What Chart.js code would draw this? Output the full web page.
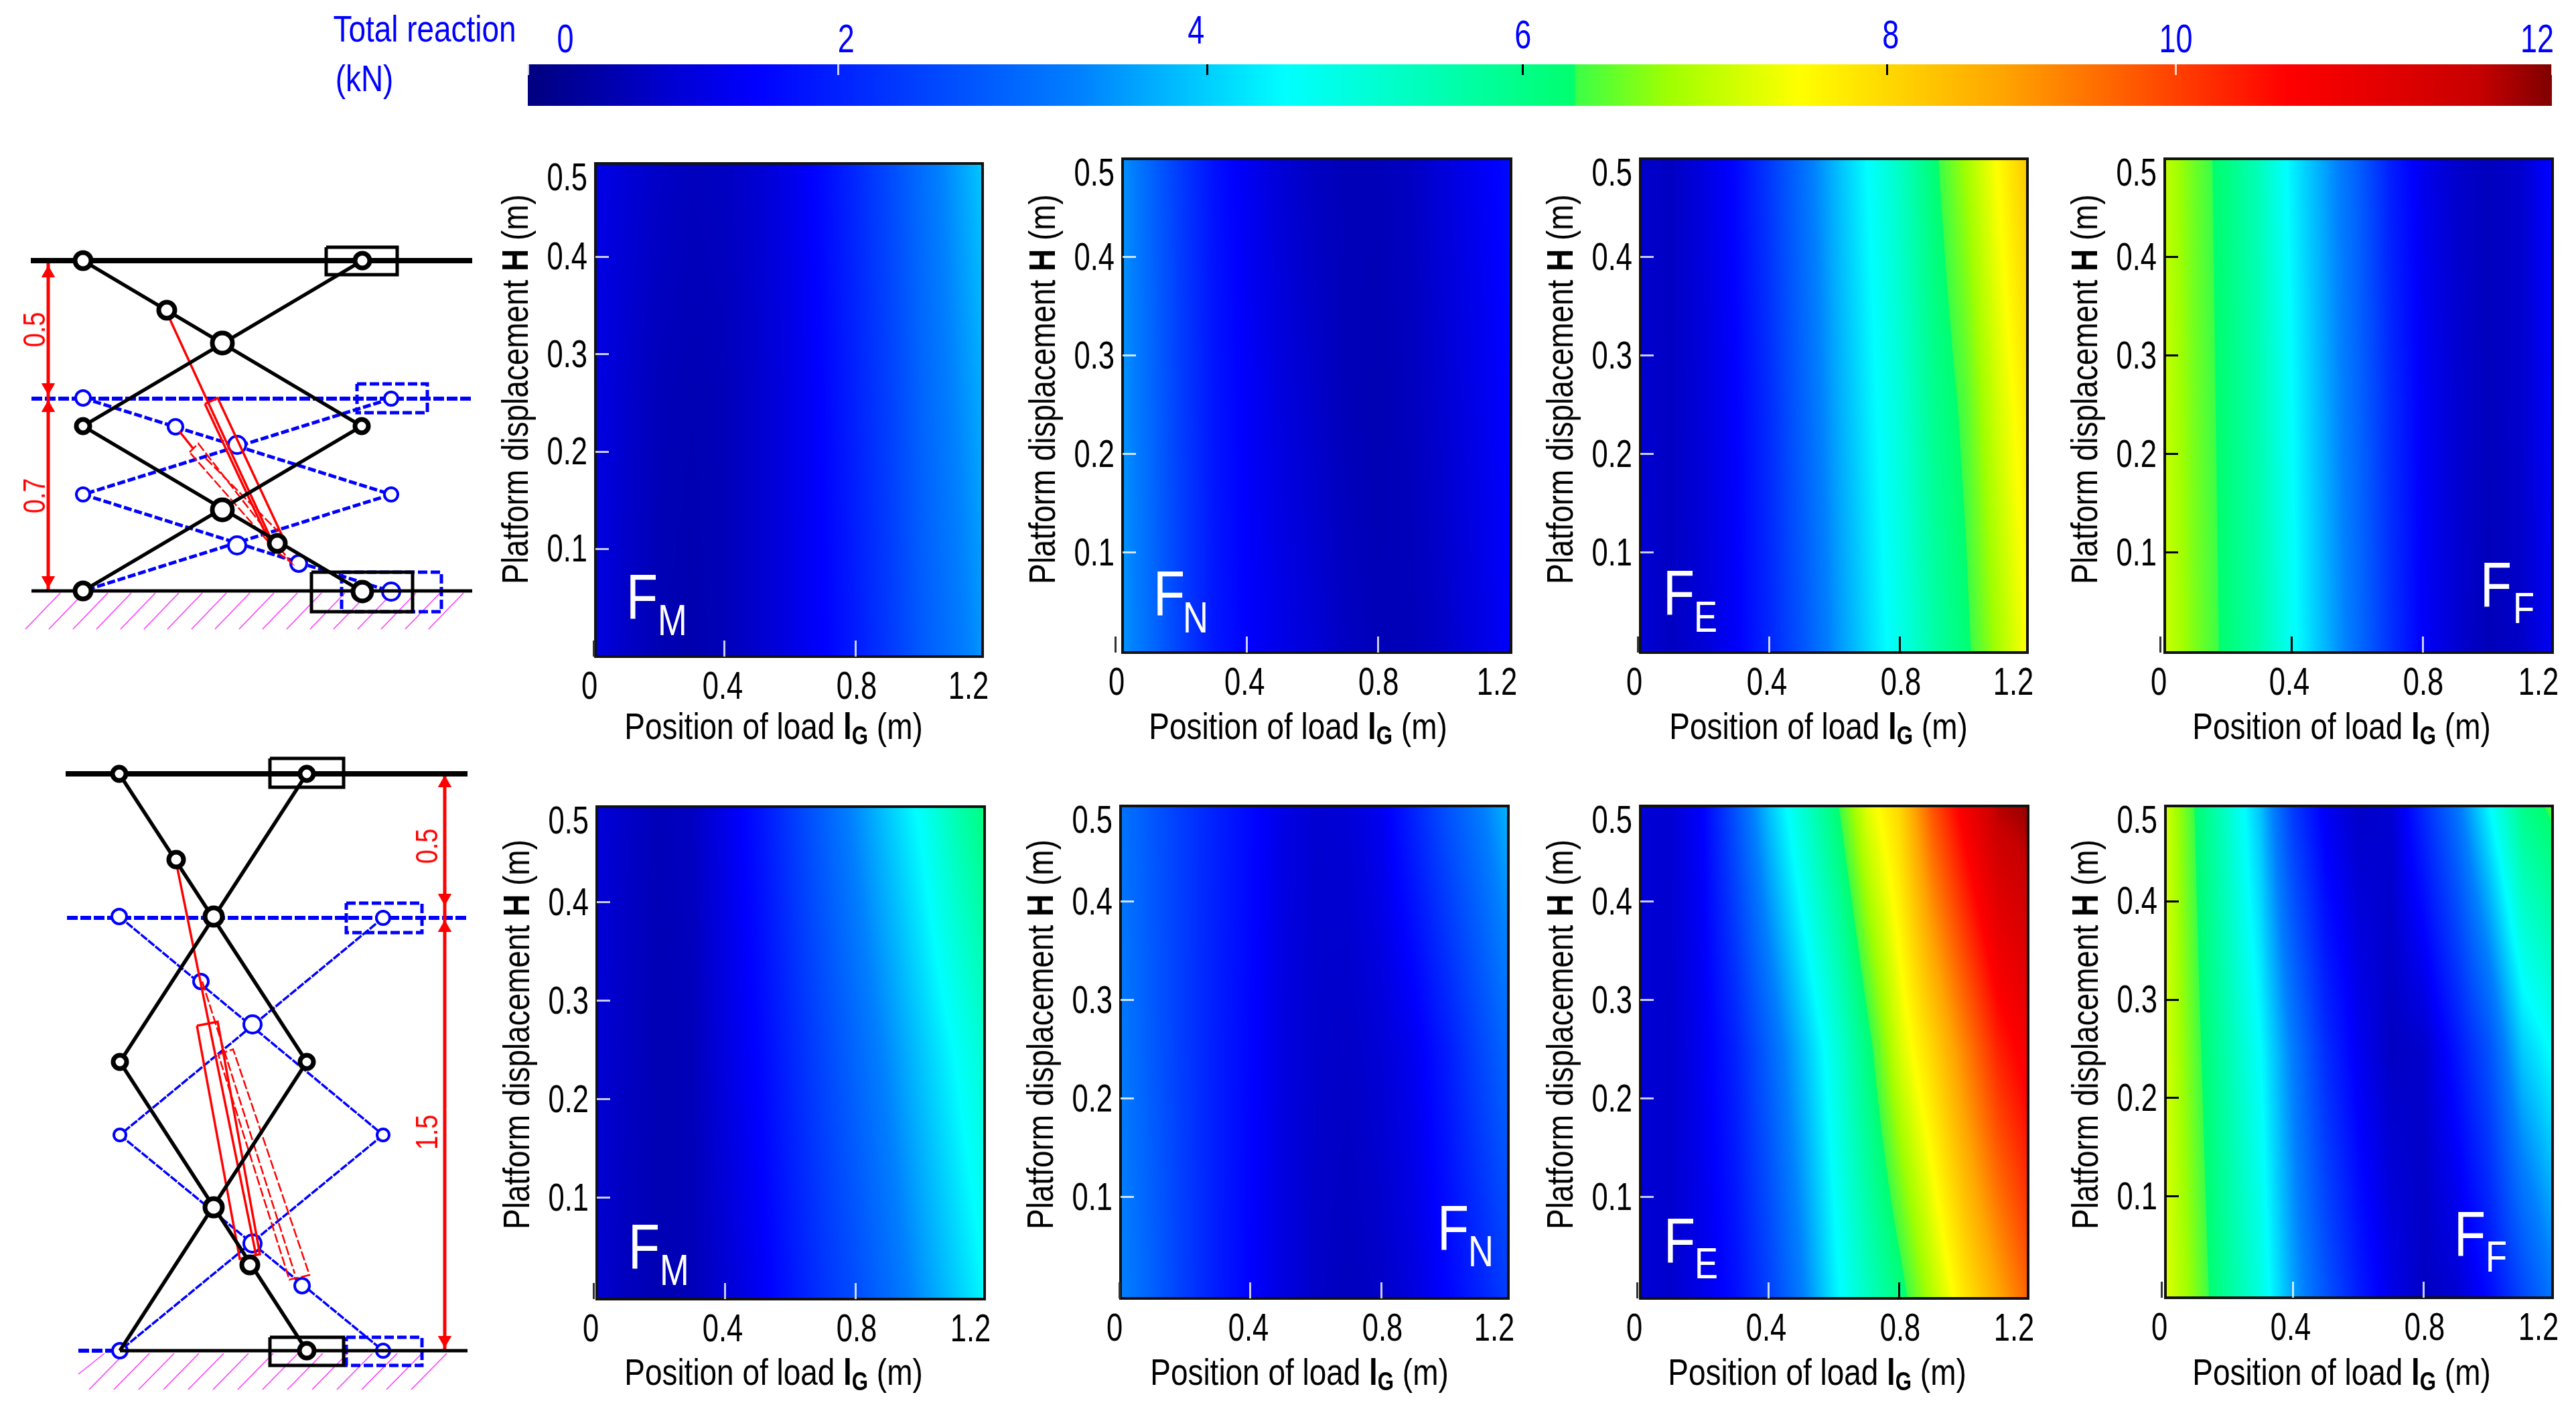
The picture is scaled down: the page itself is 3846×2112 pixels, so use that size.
<!DOCTYPE html>
<html>
<head>
<meta charset="utf-8">
<title>Total reaction maps</title>
<script src="https://cdn.jsdelivr.net/npm/chart.js@4"></script>
<style>
html, body { margin: 0; background: #fff; }
#page { position: relative; width: 3846px; height: 2112px; overflow: hidden; font-family: "Liberation Sans", sans-serif; }
canvas { position: absolute; }
.txt { position: absolute; white-space: nowrap; line-height: 1; transform: translate(-50%, -50%) scaleX(0.82); }
.txt sub { font-size: 68%; line-height: 0; vertical-align: -0.22em; }
.mark { position: absolute; white-space: nowrap; line-height: 0; color: #fff; transform: scaleX(0.82); transform-origin: left center; }
</style>
</head>
<body>
<div id="page"></div>
<script>
// Grid the maps were read on
const loadPos = [0, 0.1, 0.2, 0.3, 0.4, 0.5, 0.6, 0.7, 0.8, 0.9, 1.0, 1.1, 1.2];
const platformH = [0, 0.25, 0.5];
const xTicks = [0, 0.4, 0.8, 1.2];
const yTicks = [0.1, 0.2, 0.3, 0.4, 0.5];

// Total reaction per panel, one row per platformH
const fmUpper = [
    [1.0, 0.75, 0.55, 0.5, 0.6, 0.8, 1.05, 1.35, 1.75, 2.2, 2.7, 3.1, 3.55],
    [1.05, 0.8, 0.6, 0.55, 0.6, 0.8, 1.05, 1.4, 1.85, 2.3, 2.85, 3.3, 3.75],
    [1.1, 0.9, 0.75, 0.65, 0.7, 0.85, 1.1, 1.5, 1.95, 2.45, 3.0, 3.5, 4.05]
];
const fnUpper = [
    [3.6, 3.0, 2.3, 1.7, 1.35, 1.1, 0.9, 0.7, 0.6, 0.6, 0.75, 1.0, 1.3],
    [3.6, 2.95, 2.25, 1.65, 1.3, 1.0, 0.8, 0.6, 0.55, 0.65, 0.85, 1.1, 1.4],
    [3.6, 2.9, 2.2, 1.6, 1.2, 0.9, 0.7, 0.6, 0.6, 0.7, 0.95, 1.2, 1.5]
];
const feUpper = [
    [0.9, 0.7, 0.9, 1.3, 1.9, 2.6, 3.4, 4.1, 4.75, 5.5, 6.1, 6.85, 7.65],
    [0.85, 0.7, 0.95, 1.35, 2.0, 2.8, 3.6, 4.3, 4.95, 5.8, 6.35, 7.2, 7.95],
    [0.8, 0.7, 1.0, 1.45, 2.2, 3.0, 3.8, 4.5, 5.2, 6.1, 6.8, 7.6, 8.4]
];
const ffUpper = [
    [7.2, 6.6, 6.1, 5.5, 4.6, 3.8, 3.0, 2.1, 1.3, 0.85, 0.6, 0.75, 1.25],
    [7.15, 6.55, 6.05, 5.4, 4.5, 3.7, 2.9, 2.0, 1.25, 0.85, 0.65, 0.8, 1.35],
    [7.1, 6.5, 6.0, 5.3, 4.35, 3.6, 2.8, 1.8, 1.15, 0.8, 0.65, 0.8, 1.5]
];
const fmLower = [
    [0.85, 0.65, 0.55, 0.6, 0.85, 1.2, 1.65, 2.1, 2.5, 2.95, 3.45, 3.95, 4.5],
    [0.9, 0.7, 0.55, 0.6, 1.0, 1.4, 1.9, 2.4, 2.9, 3.4, 3.95, 4.5, 5.1],
    [0.95, 0.75, 0.6, 0.7, 1.1, 1.6, 2.2, 2.8, 3.4, 4.0, 4.6, 5.4, 6.1]
];
const fnLower = [
    [3.3, 2.8, 2.25, 1.75, 1.35, 1.0, 0.75, 0.65, 0.75, 1.0, 1.4, 1.85, 2.35],
    [3.2, 2.7, 2.2, 1.75, 1.4, 1.0, 0.8, 0.75, 0.9, 1.2, 1.75, 2.4, 3.0],
    [3.1, 2.65, 2.2, 1.8, 1.45, 1.05, 0.85, 0.9, 1.2, 1.9, 2.6, 3.2, 3.9]
];
const feLower = [
    [0.9, 0.8, 1.1, 1.55, 2.3, 3.2, 4.3, 5.2, 6.0, 6.95, 7.9, 8.7, 9.5],
    [0.9, 0.8, 1.2, 1.85, 2.8, 3.8, 4.8, 6.0, 7.2, 8.1, 9.1, 10.1, 10.7],
    [0.9, 0.85, 1.35, 2.6, 3.9, 5.0, 6.05, 7.3, 8.1, 9.6, 10.7, 11.7, 11.9]
];
const ffLower = [
    [7.35, 6.6, 5.7, 4.85, 3.6, 2.6, 1.75, 1.1, 0.7, 0.85, 1.5, 2.4, 3.2],
    [7.3, 6.4, 5.45, 4.5, 3.2, 2.0, 1.2, 0.7, 0.8, 1.65, 2.6, 4.0, 4.6],
    [7.3, 6.2, 5.1, 3.9, 2.2, 1.2, 0.75, 0.85, 2.0, 3.1, 4.5, 5.9, 6.4]
];

// Colour bar: stops along the bar, and where its printed ticks really sit
const colorAt = [0, 0.45, 0.9, 1.35, 3.27, 4.49, 6.2, 6.22, 6.77, 7.54, 8.74, 10.43, 11.56, 12];
const colorRgb = [[0, 0, 127], [0, 0, 170], [0, 0, 215], [0, 0, 255], [0, 128, 255], [0, 255, 255], [0, 255, 110], [60, 255, 70], [160, 255, 0], [255, 255, 0], [255, 165, 0], [255, 0, 0], [200, 0, 0], [127, 0, 0]];
const barTickAt = [0, 1.84, 4.03, 5.9, 8.06, 9.77, 12];
const barTickText = ["0", "2", "4", "6", "8", "10", "12"];

// Mechanism sketches, in page pixels: polylines as x,y,x,y...
const blackBars = [
    [124, 389, 540, 636], [541, 389, 124, 636], [124, 636, 541, 883], [540, 636, 124, 882],
    [178, 1155, 458, 1585], [458, 1155, 179, 1585], [179, 1585, 458, 2016], [458, 1585, 179, 2016]
];
const blackBoxes = [
    [487, 369, 593, 369, 593, 410, 487, 410, 487, 369],
    [465, 854, 616, 854, 616, 913, 465, 913, 465, 854],
    [403, 1132, 513, 1132, 513, 1175, 403, 1175, 403, 1132],
    [403, 1996, 513, 1996, 513, 2038, 403, 2038, 403, 1996]
];
const platforms = [[46, 389, 705, 389], [98, 1155, 698, 1155]];
const floors = [[47, 882, 705, 882], [179, 2016, 698, 2016]];
const blueLevels = [[47, 595, 705, 595], [100, 1370, 698, 1370], [117, 2016, 179, 2016]];
const blueBoxes = [
    [533, 573, 638, 573, 638, 616, 533, 616, 533, 573],
    [510, 854, 659, 854, 659, 913, 510, 913, 510, 854],
    [517, 1348, 630, 1348, 630, 1392, 517, 1392, 517, 1348],
    [517, 1996, 630, 1996, 630, 2038, 517, 2038, 517, 1996]
];
const blueBarsThick = [[124, 594, 584, 738], [584, 595, 124, 738], [124, 738, 584, 883], [584, 738, 124, 882]];
const blueBarsThin = [[178, 1368, 572, 1694], [572, 1370, 179, 1694], [179, 1694, 572, 2016], [572, 1694, 179, 2016]];
const redSolid = [
    [252, 473, 403, 801],
    [306, 603, 325, 594, 420, 797, 401, 806, 306, 603],
    [264, 1292, 382, 1872],
    [294, 1531, 325, 1525, 388, 1872, 358, 1879, 294, 1531],
    [268, 644, 288, 669]
];
const redDashed = [
    [283, 675, 296, 662, 434, 839, 415, 825, 283, 675],
    [307, 684, 415, 793],
    [326, 1574, 348, 1566, 462, 1903, 432, 1910, 326, 1574],
    [302, 1465, 440, 1901]
];
const dimensions = [[72, 389, 72, 882], [664, 1155, 664, 2016]];
const arrowsUp = [[72, 408], [72, 609], [664, 1169], [664, 1385]];
const arrowsDown = [[72, 578], [72, 866], [664, 1340], [664, 2000]];
const hatchUpperX = [38, 73, 109, 144, 180, 215, 250, 286, 321, 357, 392, 428, 463, 498, 534, 569, 605, 640];
const hatchLowerX = [133, 170, 207, 244, 281, 318, 355, 392, 429, 466, 503, 540, 577, 614];
// x, y, radius
const blackPins = [
    [124, 389, 12], [541, 389, 11], [249, 463, 12], [332, 512, 15], [124, 636, 10], [540, 636, 10],
    [332, 761, 15], [414, 811, 12], [124, 882, 12], [541, 883, 14],
    [178, 1155, 10], [458, 1155, 10], [263, 1283, 11], [319, 1368, 13], [179, 1585, 10], [458, 1585, 10],
    [319, 1802, 13], [373, 1888, 12], [458, 2016, 11]
];
const bluePins = [
    [124, 594, 11], [262, 637, 11], [354, 664, 13], [124, 738, 10], [584, 738, 10], [354, 814, 13], [446, 841, 12], [584, 595, 10], [584, 883, 13],
    [178, 1368, 11], [300, 1465, 11], [377, 1529, 13], [179, 1694, 9], [572, 1694, 9], [377, 1856, 13], [451, 1919, 11], [572, 1370, 10], [572, 2016, 10], [179, 2016, 11]
];

// Layout; the panels were pasted in by hand, so their axis ranges differ a little
const panels = [
    { grid: fmUpper, sym: "M", left: 889, right: 1467, top: 244, bottom: 980, xMin: 0.006, xMax: 1.186, hMin: -0.0105, hMax: 0.496, fx: 935, fy: 924, sx: 982, sy: 948, tx: 1155, ty: 1084, hy: 581 },
    { grid: fnUpper, sym: "N", left: 1676, right: 2256, top: 237, bottom: 974, xMin: 0.022, xMax: 1.206, hMin: -0.0016, hMax: 0.5, fx: 1722, fy: 919, sx: 1766, sy: 944, tx: 1938, ty: 1084, hy: 581 },
    { grid: feUpper, sym: "E", left: 2449, right: 3027, top: 237, bottom: 974, xMin: 0.008, xMax: 1.188, hMin: -0.0016, hMax: 0.5, fx: 2483, fy: 918, sx: 2529, sy: 943, tx: 2715, ty: 1084, hy: 581 },
    { grid: ffUpper, sym: "F", left: 3232, right: 3811, top: 237, bottom: 974, xMin: 0.014, xMax: 1.196, hMin: -0.0016, hMax: 0.5, fx: 3703, fy: 906, sx: 3752, sy: 930, tx: 3496, ty: 1084, hy: 581 },
    { grid: fmLower, sym: "M", left: 891, right: 1470, top: 1204, bottom: 1939, xMin: 0.01, xMax: 1.192, hMin: -0.003, hMax: 0.497, fx: 938, fy: 1894, sx: 985, sy: 1918, tx: 1155, ty: 2048, hy: 1544 },
    { grid: fnLower, sym: "N", left: 1673, right: 2252, top: 1203, bottom: 1938, xMin: 0.004, xMax: 1.186, hMin: -0.003, hMax: 0.497, fx: 2146, fy: 1866, sx: 2192, sy: 1890, tx: 1940, ty: 2048, hy: 1544 },
    { grid: feLower, sym: "E", left: 2449, right: 3028, top: 1203, bottom: 1938, xMin: 0.01, xMax: 1.192, hMin: -0.003, hMax: 0.497, fx: 2484, fy: 1885, sx: 2530, sy: 1908, tx: 2713, ty: 2048, hy: 1544 },
    { grid: ffLower, sym: "F", left: 3233, right: 3811, top: 1203, bottom: 1937, xMin: 0.012, xMax: 1.192, hMin: -0.003, hMax: 0.497, fx: 3664, fy: 1875, sx: 3711, sy: 1898, tx: 3496, ty: 2048, hy: 1544 }
];
const page = document.getElementById("page");
const SQUEEZE = 0.75;

Chart.defaults.animation = false;
Chart.defaults.layout.autoPadding = false;
Chart.defaults.plugins.legend.display = false;
Chart.defaults.plugins.tooltip.enabled = false;
Chart.defaults.font.family = "'Liberation Sans', sans-serif";

function addCanvas(left, top, w, h) {
    const c = document.createElement("canvas");
    c.width = w;
    c.height = h;
    c.style.left = left + "px";
    c.style.top = top + "px";
    page.appendChild(c);
    const ctx = c.getContext("2d");
    // the original lettering is squeezed sideways, no condensed face is installed
    const fill = ctx.fillText.bind(ctx);
    ctx.fillText = (t, x, y) => {
        ctx.save();
        ctx.scale(SQUEEZE, 1);
        fill(t, x / SQUEEZE, y);
        ctx.restore();
    };
    return ctx;
}

function addText(html, x, y, size, color, rotate) {
    const d = document.createElement("div");
    d.className = "txt";
    d.innerHTML = html;
    d.style.left = x + "px";
    d.style.top = y + "px";
    d.style.fontSize = size + "px";
    d.style.color = color || "#000";
    if (rotate) d.style.transform = "translate(-50%, -50%) rotate(-90deg) scaleX(0.82)";
    page.appendChild(d);
}

function addMark(text, x, baseline, size) {
    const d = document.createElement("div");
    d.className = "mark";
    d.textContent = text;
    d.style.left = x + "px";
    d.style.top = (baseline - 0.3465 * size) + "px";
    d.style.fontSize = size + "px";
    page.appendChild(d);
}

function valueColor(v) {
    let i = 0;
    while (i < colorAt.length - 2 && v > colorAt[i + 1]) i++;
    const t = Math.min(1, Math.max(0, (v - colorAt[i]) / (colorAt[i + 1] - colorAt[i])));
    return colorRgb[i].map((c, k) => Math.round(c + (colorRgb[i + 1][k] - c) * t));
}

// Read a panel's grid at a given load position and platform height
function sampleGrid(grid, x, h) {
    const xi = Math.min(loadPos.length - 2, Math.max(0, Math.floor(x / 0.1)));
    const hi = h < platformH[1] ? 0 : 1;
    const tx = Math.min(1, Math.max(0, (x - loadPos[xi]) / (loadPos[xi + 1] - loadPos[xi])));
    const th = Math.min(1, Math.max(0, (h - platformH[hi]) / (platformH[hi + 1] - platformH[hi])));
    const low = grid[hi][xi] + (grid[hi][xi + 1] - grid[hi][xi]) * tx;
    const high = grid[hi + 1][xi] + (grid[hi + 1][xi + 1] - grid[hi + 1][xi]) * tx;
    return low + (high - low) * th;
}

function tickShade(v) {
    return v > 4 && v < 9.5 ? "#000" : "rgba(255,255,255,0.8)";
}

const heatPlugin = {
    id: "heat",
    beforeDatasetsDraw(chart) {
        const { ctx, chartArea: a, scales } = chart;
        const grid = chart.options.plugins.heat.grid;
        const w = Math.round(a.right - a.left), h = Math.round(a.bottom - a.top);
        const img = ctx.createImageData(w, h);
        for (let py = 0; py < h; py++) {
            const hv = scales.y.getValueForPixel(a.top + py);
            for (let px = 0; px < w; px++) {
                const c = valueColor(sampleGrid(grid, scales.x.getValueForPixel(a.left + px), hv));
                const o = (py * w + px) * 4;
                img.data[o] = c[0];
                img.data[o + 1] = c[1];
                img.data[o + 2] = c[2];
                img.data[o + 3] = 255;
            }
        }
        ctx.putImageData(img, a.left, a.top);
    },
    afterDatasetsDraw(chart) {
        const { ctx, chartArea: a } = chart;
        ctx.save();
        ctx.strokeStyle = "#111";
        ctx.lineWidth = 4;
        ctx.strokeRect(a.left, a.top, a.right - a.left, a.bottom - a.top);
        ctx.restore();
    }
};

// Tick labels in the original are not centred on their ticks
const labelShiftPlugin = {
    id: "labelShift",
    beforeDraw(chart) {
        const shifts = chart.options.plugins.labelShift;
        Object.keys(shifts).forEach(id => {
            chart.scales[id].getLabelItems().forEach((item, i) => {
                const s = shifts[id][i];
                if (!s || item.shifted) return;
                item.options.translation[0] += s[0];
                item.options.translation[1] += s[1];
                item.shifted = true;
            });
        });
    }
};

const M = { l: 110, r: 50, t: 50, b: 80 };

panels.forEach(p => {
    const w = p.right - p.left, h = p.bottom - p.top;
    const xPixel = v => p.left + (v - p.xMin) / (p.xMax - p.xMin) * w;
    const hPixel = v => p.bottom - (v - p.hMin) / (p.hMax - p.hMin) * h;
    const points = [];
    p.grid.forEach((row, r) => row.forEach((v, c) => points.push({ x: loadPos[c], y: platformH[r], v })));
    new Chart(addCanvas(p.left - M.l, p.top - M.t, w + M.l + M.r, h + M.t + M.b), {
        type: "scatter",
        data: { datasets: [{ data: points, pointRadius: 0 }] },
        plugins: [heatPlugin, labelShiftPlugin],
        options: {
            responsive: false,
            layout: { padding: { top: M.t, right: M.r, left: 0, bottom: 0 } },
            plugins: {
                heat: { grid: p.grid },
                labelShift: {
                    x: [[p.left - 9 - xPixel(0), 0], [-3, 0], [1, 0], [p.right - 21 - xPixel(1.2), 0]],
                    y: [[0, 3], [0, 3], [0, 3], [0, 3], [0, p.top + 24 - hPixel(0.5)]]
                }
            },
            scales: {
                x: {
                    type: "linear", min: p.xMin, max: p.xMax,
                    afterFit(s) { s.height = M.b; s.paddingLeft = 0; s.paddingRight = 0; },
                    afterBuildTicks(s) { s.ticks = xTicks.map(v => ({ value: v })); },
                    border: { display: false },
                    grid: {
                        drawOnChartArea: false, z: 1, tickLength: -24, tickWidth: 3,
                        tickColor: c => {
                            const v = c.tick ? c.tick.value : 0;
                            if (v === 1.2) return "transparent";
                            return v === 0 ? "#333" : tickShade(sampleGrid(p.grid, v, 0));
                        }
                    },
                    ticks: { color: "#000", padding: 36, maxRotation: 0, autoSkip: false, font: { size: 58 }, callback: v => String(v) }
                },
                y: {
                    type: "linear", min: p.hMin, max: p.hMax,
                    afterFit(s) { s.width = M.l; s.paddingTop = 0; s.paddingBottom = 0; },
                    afterBuildTicks(s) { s.ticks = yTicks.map(v => ({ value: v })); },
                    border: { display: false },
                    grid: {
                        drawOnChartArea: false, z: 1, tickLength: -20, tickWidth: 3,
                        tickColor: c => {
                            const v = c.tick ? c.tick.value : 0;
                            return v === 0.5 ? "transparent" : tickShade(sampleGrid(p.grid, 0, v));
                        }
                    },
                    ticks: { color: "#000", padding: 32, autoSkip: false, font: { size: 58 }, callback: v => String(v) }
                }
            }
        }
    });
    addText('Position of load <b>l<sub>G</sub></b> (m)', p.tx, p.ty, 56);
    addText('Platform displacement <b>H</b> (m)', p.left - 120, p.hy, 56, "#000", true);
    addMark("F", p.fx, p.fy, 94);
    addMark(p.sym, p.sx, p.sy, 64);
});

// Colour bar
const barPlugin = {
    id: "bar",
    beforeDatasetsDraw(chart) {
        const { ctx, chartArea: a, scales } = chart;
        const g = ctx.createLinearGradient(scales.x.getPixelForValue(0), 0, scales.x.getPixelForValue(12), 0);
        colorAt.forEach((v, i) => g.addColorStop(v / 12, "rgb(" + colorRgb[i].join(",") + ")"));
        ctx.fillStyle = g;
        ctx.fillRect(a.left, a.top, a.right - a.left, a.bottom - a.top);
    }
};

new Chart(addCanvas(748, 0, 3098, 158), {
    type: "scatter",
    data: { datasets: [{ data: barTickAt.map(v => ({ x: v, y: 0 })), pointRadius: 0 }] },
    plugins: [barPlugin, labelShiftPlugin],
    options: {
        responsive: false,
        layout: { padding: { left: 40, right: 36, top: 0, bottom: 0 } },
        plugins: {
            labelShift: { x: [[56, 0], [12, 0], [-17, -13], [0, -6], [5, -6], [0, 0], [-22, 0]] }
        },
        scales: {
            x: {
                type: "linear", position: "top", min: 0, max: 12,
                afterFit(s) { s.height = 96; s.paddingLeft = 0; s.paddingRight = 0; },
                afterBuildTicks(s) { s.ticks = barTickAt.map(v => ({ value: v })); },
                border: { display: false },
                grid: {
                    drawOnChartArea: false, z: 1, tickLength: -16, tickWidth: 3,
                    tickColor: c => tickShade(c.tick ? c.tick.value : 0)
                },
                ticks: {
                    color: "#0000ff", padding: 15, maxRotation: 0, autoSkip: false, font: { size: 60 },
                    callback: v => barTickText[barTickAt.indexOf(v)]
                }
            },
            y: { display: false, min: 0, max: 1 }
        }
    }
});
addText("Total reaction", 634, 43, 56, "#0000ff");
addText("(kN)", 544, 117, 56, "#0000ff");

// Mechanism sketches
function polySets(lines, color, width, dash) {
    return lines.map(l => {
        const data = [];
        for (let i = 0; i < l.length; i += 2) data.push({ x: l[i], y: l[i + 1] });
        return { data, showLine: true, borderColor: color, borderWidth: width, borderDash: dash || [], pointRadius: 0 };
    });
}

function pinSet(pins, color, width) {
    return {
        data: pins.map(p => ({ x: p[0], y: p[1] })),
        pointRadius: pins.map(p => p[2]),
        pointBackgroundColor: "#fff",
        pointBorderColor: color,
        pointBorderWidth: width
    };
}

function arrowSet(tips, rotation) {
    return {
        data: tips.map(p => ({ x: p[0], y: p[1] })),
        pointStyle: "triangle",
        rotation,
        pointRadius: 11,
        pointBackgroundColor: "#ff0000",
        pointBorderColor: "#ff0000",
        pointBorderWidth: 1
    };
}

const hatch = [
    ...hatchUpperX.map(x => [x, 939, x + 52, 885]),
    ...hatchLowerX.map(x => [x, 2074, x + 53, 2020]),
    [117, 2051, 156, 2020]
];

// first dataset ends up on top
const sketchSets = [
    pinSet(blackPins, "#000", 7),
    ...polySets(blackBoxes, "#000", 5),
    ...polySets(platforms, "#000", 8),
    ...polySets(blackBars, "#000", 5.5),
    ...polySets(floors, "#000", 5),
    arrowSet(arrowsUp, 0),
    arrowSet(arrowsDown, 180),
    ...polySets(dimensions, "#ff0000", 5),
    ...polySets(redSolid, "#ff0000", 3.5),
    ...polySets(redDashed, "#ff0000", 2.5, [14, 4]),
    pinSet(bluePins, "#0000ff", 4),
    ...polySets(blueBoxes, "#0000ff", 5, [14, 5]),
    ...polySets(blueLevels, "#0000ff", 6, [16, 4]),
    ...polySets(blueBarsThick, "#0000ff", 5, [12, 4]),
    ...polySets(blueBarsThin, "#0000ff", 3.5, [12, 2]),
    ...polySets(hatch, "#ff33ff", 1.5)
];

new Chart(addCanvas(0, 0, 760, 2112), {
    type: "scatter",
    data: { datasets: sketchSets },
    options: {
        responsive: false,
        layout: { padding: 0 },
        scales: {
            x: { type: "linear", display: false, min: 0, max: 760 },
            y: { type: "linear", display: false, min: 0, max: 2112, reverse: true }
        }
    }
});
addText("0.5", 51, 492, 46, "#ff0000", true);
addText("0.7", 51, 740, 46, "#ff0000", true);
addText("0.5", 637, 1263, 46, "#ff0000", true);
addText("1.5", 637, 1690, 46, "#ff0000", true);
</script>
</body>
</html>
